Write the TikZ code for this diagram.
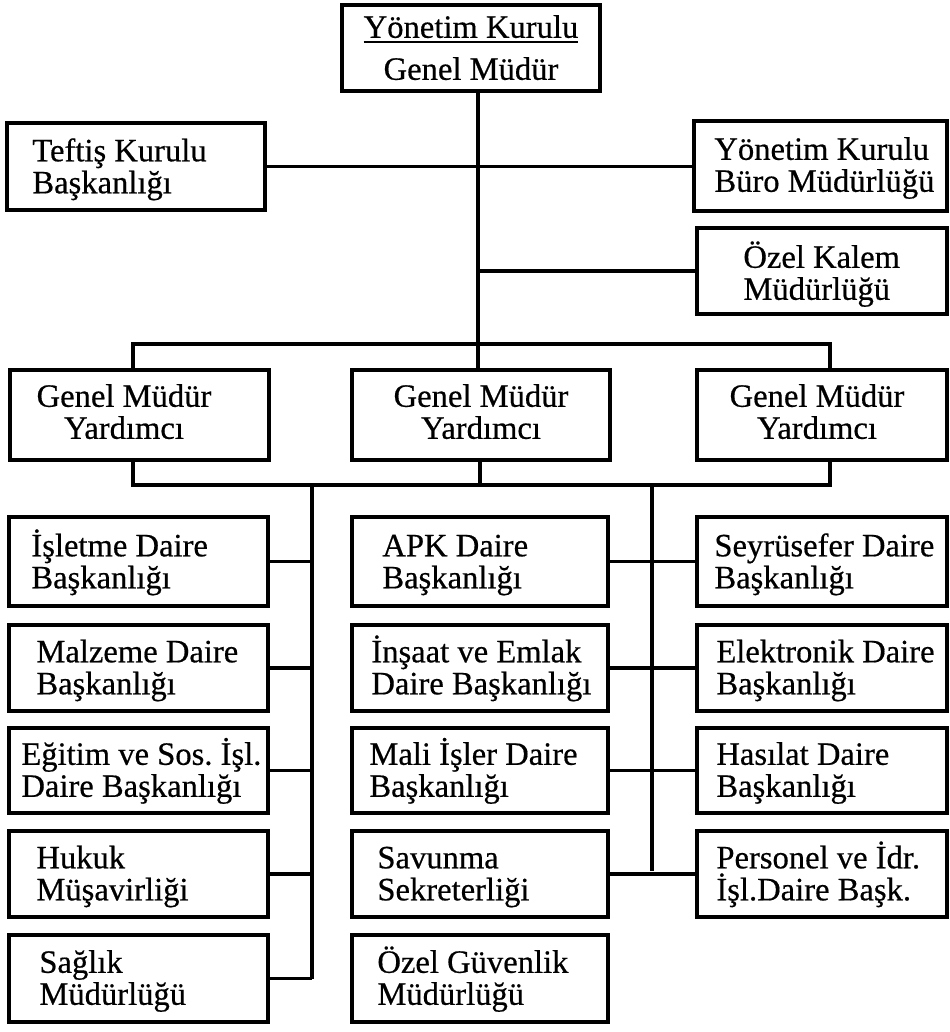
\documentclass[tikz,border=0pt]{standalone}
\usepackage{fontspec}
\setmainfont{Liberation Serif}[FakeBold=0.5]
\usetikzlibrary{fit}
\frenchspacing
\newsavebox\ulbox
\newcommand\ulbar[1]{\sbox\ulbox{#1}\rlap{\rule[-2.6pt]{\wd\ulbox}{1pt}}\usebox\ulbox}
\newcommand\uprule{\rule{0pt}{14pt}}
\newcommand\dnrule{\rule[-4.2pt]{0pt}{4.2pt}}
\begin{document}
\begin{tikzpicture}[x=0.5pt,y=-0.5pt,
  unit/.style={draw, line width=1.7pt, inner sep=0pt},
  lbl/.style={inner sep=0pt, align=left, anchor=west,
    font={\fontsize{16.3pt}{16pt}\selectfont\lineskiplimit=-20pt}},
  clbl/.style={lbl, align=center, anchor=center},
  link/.style={line width=1.6pt}]
\useasboundingbox (0,0) rectangle (949,1032);

% ---- top level ----
\node[unit, fit={(342,5) (600,91)}] (gm) {};
\node[clbl] (gm-t) at (471,49) {\uprule\ulbar{Yönetim Kurulu}\\[5pt]Genel Müdür\dnrule};

\node[unit, fit={(7,123) (265,210)}] (teftis) {};
\node[lbl] (teftis-t) at (32,167.5) {\uprule Teftiş Kurulu\\Başkanlığı\dnrule};

\node[unit, fit={(694,121) (947,211)}] (buro) {};
\node[lbl] (buro-t) at (714,166) {\uprule Yönetim Kurulu\\Büro Müdürlüğü\dnrule};

\node[unit, fit={(697,228) (947,314)}] (kalem) {};
\node[lbl] (kalem-t) at (743,274) {\uprule Özel Kalem\\Müdürlüğü\dnrule};

% ---- deputy general managers ----
\node[unit, fit={(10,370) (269,460)}] (gmy1) {};
\node[unit, fit={(352,370) (610,460)}] (gmy2) {};
\node[unit, fit={(697,370) (947,460)}] (gmy3) {};
\node[clbl] (gmy1-t) at (124,413) {\uprule Genel Müdür\\Yardımcı\dnrule};
\node[clbl] (gmy2-t) at (481,413) {\uprule Genel Müdür\\Yardımcı\dnrule};
\node[clbl] (gmy3-t) at (817,413) {\uprule Genel Müdür\\Yardımcı\dnrule};

% ---- departments: left column ----
\node[unit, fit={(9,517) (268,606)}]   (l1) {};
\node[unit, fit={(9,625) (268,711)}]   (l2) {};
\node[unit, fit={(9,728) (268,813)}]   (l3) {};
\node[unit, fit={(9,831) (268,917)}]   (l4) {};
\node[unit, fit={(9,935) (268,1022)}]  (l5) {};
\node[lbl] (l1-t) at (31,562.5) {\uprule İşletme Daire\\Başkanlığı\dnrule};
\node[lbl] (l2-t) at (36,668.5) {\uprule Malzeme Daire\\Başkanlığı\dnrule};
\node[lbl] (l3-t) at (21,771) {\uprule Eğitim ve Sos. İşl.\\Daire Başkanlığı\dnrule};
\node[lbl] (l4-t) at (36,874.5) {\uprule Hukuk\\Müşavirliği\dnrule};
\node[lbl] (l5-t) at (39,979) {\uprule Sağlık\\Müdürlüğü\dnrule};

% ---- departments: middle column ----
\node[unit, fit={(352,517) (608,606)}]  (m1) {};
\node[unit, fit={(352,625) (608,711)}]  (m2) {};
\node[unit, fit={(352,728) (608,813)}]  (m3) {};
\node[unit, fit={(352,831) (608,917)}]  (m4) {};
\node[unit, fit={(352,935) (608,1022)}] (m5) {};
\node[lbl] (m1-t) at (382,562.5) {\uprule APK Daire\\Başkanlığı\dnrule};
\node[lbl] (m2-t) at (371,668.5) {\uprule İnşaat ve Emlak\\Daire Başkanlığı\dnrule};
\node[lbl] (m3-t) at (369,771) {\uprule Mali İşler Daire\\Başkanlığı\dnrule};
\node[lbl] (m4-t) at (377,874.5) {\uprule Savunma\\Sekreterliği\dnrule};
\node[lbl] (m5-t) at (377,979) {\uprule Özel Güvenlik\\Müdürlüğü\dnrule};

% ---- departments: right column ----
\node[unit, fit={(697,517) (947,606)}] (r1) {};
\node[unit, fit={(697,625) (947,711)}] (r2) {};
\node[unit, fit={(697,728) (947,813)}] (r3) {};
\node[unit, fit={(697,831) (947,917)}] (r4) {};
\node[lbl] (r1-t) at (714,562.5) {\uprule Seyrüsefer Daire\\Başkanlığı\dnrule};
\node[lbl] (r2-t) at (716,668.5) {\uprule Elektronik Daire\\Başkanlığı\dnrule};
\node[lbl] (r3-t) at (716,771) {\uprule Hasılat Daire\\Başkanlığı\dnrule};
\node[lbl] (r4-t) at (716,874.5) {\uprule Personel ve İdr.\\İşl.Daire Başk.\dnrule};

% ---- routing points ----
\coordinate (trunk) at (478,0);
\coordinate (dropL) at (133,344);
\coordinate (dropR) at (830,344);
\coordinate (busL)  at (133,485);
\coordinate (busR)  at (830,485);
\coordinate (dropM) at (480,485);
\coordinate (colL)  at (312,485);
\coordinate (colR)  at (652,485);

% ---- connectors ----
\draw[link] (gm.south -| trunk) -- (gmy2.north -| trunk);
\draw[link] (teftis.east) -- (teftis.east -| buro.west);
\draw[link] (kalem.west -| trunk) -- (kalem.west);
\draw[link] (gmy1.north -| dropL) |- (dropR) -- (gmy3.north -| dropR);
\draw[link] (gmy1.south -| busL) |- (busR) -- (gmy3.south -| busR);
\draw[link] (gmy2.south -| dropM) -- (dropM);
\draw[link] (colL) -- (colL |- l5.east);
\draw[link] (colR) -- ([yshift=1.3pt]colR |- m4.east);
\foreach \i in {1,...,5}
  \draw[link] (l\i.east) -- (l\i.east -| colL);
\foreach \i in {1,...,4}
  \draw[link] (m\i.east) -- (m\i.east -| r\i.west);
\end{tikzpicture}
\end{document}
